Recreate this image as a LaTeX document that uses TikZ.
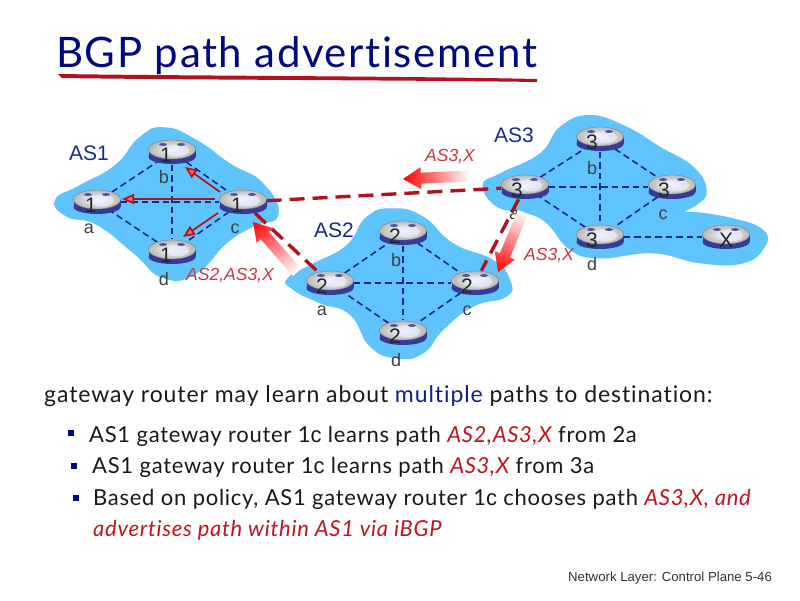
\documentclass[tikz,border=0pt]{standalone}
\usepackage{fontspec}
\setmainfont{Lato}[Ligatures=NoCommon]
\newfontfamily\arialf{Liberation Sans}
\usetikzlibrary{shapes.geometric,arrows.meta}
\pgfdeclarelayer{blobs}
\pgfdeclarelayer{links}
\pgfsetlayers{blobs,links,main}
\definecolor{cloudblue}{HTML}{5FC4FC}
\definecolor{navy}{HTML}{000A80}
\definecolor{linkblue}{HTML}{12249A}
\definecolor{asnavy}{HTML}{1A2A8C}
\definecolor{bandblue}{HTML}{343C98}
\definecolor{dred}{HTML}{B2121E}
\definecolor{tred}{HTML}{C0141E}
\definecolor{midblue}{HTML}{10208A}
\tikzset{
 x=1pt,y=-1pt,
 cloud/.style={fill=cloudblue,draw=none},
 rnode/.style={ellipse,minimum width=47pt,minimum height=25pt,inner sep=0pt,draw=none},
 rtext/.style={font=\arialf\fontsize{21}{21}\selectfont,text=black!85,inner sep=0pt},
 glabel/.style={font=\arialf\fontsize{18}{18}\selectfont,text=black!75,inner sep=0pt},
 aslabel/.style={font=\arialf\fontsize{21}{21}\selectfont,text=asnavy,inner sep=0pt},
 pathlabel/.style={font=\arialf\itshape\fontsize{17.5}{17.5}\selectfont,text=tred!85!white,inner sep=0pt},
 bodytext/.style={anchor=base west,inner sep=0pt,font=\fontsize{22}{24}\selectfont\addfontfeature{LetterSpace=3.3},text=black!90},
 bulletmark/.style={fill=navy,draw=none,minimum size=6pt,inner sep=0pt},
 ilink/.style={draw=linkblue,line width=1.6pt,dash pattern=on 6.5pt off 4pt},
 elink/.style={draw=dred,line width=3.4pt,dash pattern=on 15pt off 8pt},
 ibgp/.style={draw=dred,line width=1.7pt,-{Triangle[width=10pt,length=12pt,fill=red!60!white]}},
}
% \routerR{name}{x}{y}{text}{text shift}
\newcommand{\routerR}[5]{%
 \node[rnode] (#1) at (#2,#3) {};
 \begin{scope}[shift={(#2,#3)}]
  \fill[bandblue] (-23.5,-2.5) rectangle (23.5,5);
  \fill[bandblue] (0,5) ellipse[x radius=23.5,y radius=7];
  \shade[inner color=white,outer color=black!28,draw=black!50,line width=.4pt] (0,-2.5) ellipse[x radius=23.5,y radius=9.5];
  \fill[blue!8!white,opacity=.7] (5,-1.5) ellipse[x radius=12,y radius=6];
  \fill[asnavy!80] (-9,-7.5) ellipse[x radius=4,y radius=1.4];
  \fill[asnavy!80] (9,-7.5) ellipse[x radius=4,y radius=1.4];
 \end{scope}
 \node[rtext] (#1t) at (#2+#5,#3+3) {#4};
}
% \gradR{name}{tip x}{tip y}{length}{angle}
\newcommand{\gradR}[5]{%
 \begin{scope}[transform canvas={shift={(#2,#3)},rotate=#5}]
  \shade[left color=red,middle color=red!78!white,right color=white]
   (0,0) -- (18,-11) -- (18,-5.5) -- (#4,-5.5) -- (#4,5.5) -- (18,5.5) -- (18,11) -- cycle;
 \end{scope}
}
\begin{document}
\begin{tikzpicture}
\useasboundingbox (0,0) rectangle (800,600);

% title
\fill[dred] (58,74) .. controls (200,76) and (400,76) .. (537,79) -- (537,82) .. controls (400,80) and (200,80) .. (62,78) -- cycle;
\node[anchor=base west,inner sep=0pt,font=\fontsize{42}{44}\selectfont\addfontfeature{LetterSpace=3.8},text=navy] (title) at (56,67) {BGP path advertisement};

% clouds
\begin{pgfonlayer}{blobs}
\fill[white] (0,0) rectangle (800,600);
\begin{scope}[shift={(40,110)},scale=1/3]
 \fill[cloud] plot[smooth cycle,tension=.85] coordinates {(45,270)(120,225)(225,165)(300,80)(375,52)(470,90)(570,160)(670,220)(715,315)(640,350)(560,400)(470,490)(370,505)(280,430)(170,345)(80,320)};
\end{scope}
\begin{scope}[shift={(280,200)},scale=1/3]
 \fill[cloud] plot[smooth cycle,tension=.85] coordinates {(22,235)(100,190)(200,135)(260,50)(340,25)(430,50)(520,130)(640,180)(690,240)(680,290)(580,320)(490,390)(430,460)(350,475)(270,440)(210,345)(120,310)(40,270)};
\end{scope}
\begin{scope}[shift={(400,110)},scale=1/3]
 \fill[cloud] plot[smooth cycle,tension=.75] coordinates {(248,225)(300,190)(420,130)(480,50)(570,15)(680,50)(780,110)(880,170)(920,240)(890,285)(810,322)(860,305)(1000,325)(1090,360)(1095,410)(1030,460)(900,460)(760,430)(600,445)(510,420)(440,340)(380,310)(290,290)};
\end{scope}
\end{pgfonlayer}

% routers
\routerR{oa}{97}{202}{1}{-6}
\routerR{ob}{172}{152}{1}{-6}
\routerR{oc}{243}{202}{1}{-6}
\routerR{od}{172}{252}{1}{-6}
\routerR{ta}{330}{283}{2}{-8}
\routerR{tb}{403}{233}{2}{-8}
\routerR{tc}{475}{283}{2}{-8}
\routerR{td}{403}{333}{2}{-8}
\routerR{ha}{525}{187}{3}{-8}
\routerR{hb}{600}{139}{3}{-8}
\routerR{hc}{672}{187}{3}{-8}
\routerR{hd}{600}{237}{3}{-8}
\routerR{xr}{726}{237}{X}{0}

% links
\begin{pgfonlayer}{links}
\foreach \p in {o,t,h}{
 \draw[ilink] (\p a) -- (\p b);
 \draw[ilink] (\p b) -- (\p c);
 \draw[ilink] (\p c) -- (\p d);
 \draw[ilink] (\p d) -- (\p a);
 \draw[ilink] (\p a) -- (\p c);
 \draw[ilink] (\p b) -- (\p d);
}
\draw[ilink] (hd) -- (xr);
\draw[elink] (oc) -- (ha);
\draw[elink] (oc) -- (ta);
\draw[elink] (ha) -- (tc);
\end{pgfonlayer}

% labels
\node[aslabel] (asone) at (89,153) {AS1};
\node[aslabel] (astwo) at (334,230) {AS2};
\node[aslabel] (asthree) at (514,135) {AS3};
\node[glabel] (loa) at (89,229) {a};
\node[glabel] (lob) at (164,177) {b};
\node[glabel] (loc) at (235,229) {c};
\node[glabel] (lod) at (164,279) {d};
\node[glabel] (lta) at (322,311) {a};
\node[glabel] (ltb) at (396,260) {b};
\node[glabel] (ltc) at (467,311) {c};
\node[glabel] (ltd) at (396,360) {d};
\node[glabel] (lha) at (514,215) {a};
\node[glabel] (lhb) at (592,168) {b};
\node[glabel] (lhc) at (663,215) {c};
\node[glabel] (lhd) at (592,264) {d};

% internal iBGP arrows
\draw[ibgp] ([shift={(-23pt,10pt)}]oc.center) -- ([shift={(13pt,-15pt)}]ob.center);
\draw[ibgp] ([shift={(-28pt,3pt)}]oc.center) -- ([shift={(25pt,3pt)}]oa.center);
\draw[ibgp] ([shift={(-25pt,-11pt)}]oc.center) -- ([shift={(11pt,15pt)}]od.center);

% gradient arrows
\gradR{aone}{403}{179}{67}{2.6}
\gradR{atwo}{498}{272}{65}{67.4}
\gradR{athree}{253}{222}{67}{-48.7}
\node[pathlabel] (pa) at (450,157) {AS3,X};
\node[pathlabel] (pb) at (549,256) {AS3,X};
\node[pathlabel] (pc) at (230,276) {AS2,AS3,X};

% text
\node[bodytext,font=\fontsize{23}{24}\selectfont\addfontfeature{LetterSpace=4},text=black!90] (lead) at (44,402) {gateway router may learn about \textcolor{midblue}{multiple} paths to destination:};
\node[bulletmark] (bu) at (71,433) {};
\node[bulletmark] (bv) at (74,466) {};
\node[bulletmark] (bw) at (76,498) {};
\newcommand{\onec}{1{\arialf c}}
\newcommand{\redp}[1]{\textcolor{tred}{\itshape #1}}
\node[bodytext] (tu) at (89,442) {AS1 gateway router \onec{} learns path \redp{AS2,AS3,X} from 2a};
\node[bodytext] (tv) at (92,473) {AS1 gateway router \onec{} learns path \redp{AS3,X} from 3a};
\node[bodytext] (tw) at (93,505) {Based on policy, AS1 gateway router \onec{} chooses path \redp{AS3,X, and}};
\node[bodytext] (tx) at (93,536) {\redp{advertises path within AS1 via iBGP}};
\node[anchor=base west,inner sep=0pt,font=\arialf\fontsize{13.2}{13.2}\selectfont,text=black!80] (foot) at (568,581) {Network Layer: Control Plane 5-46};
\end{tikzpicture}
\end{document}
